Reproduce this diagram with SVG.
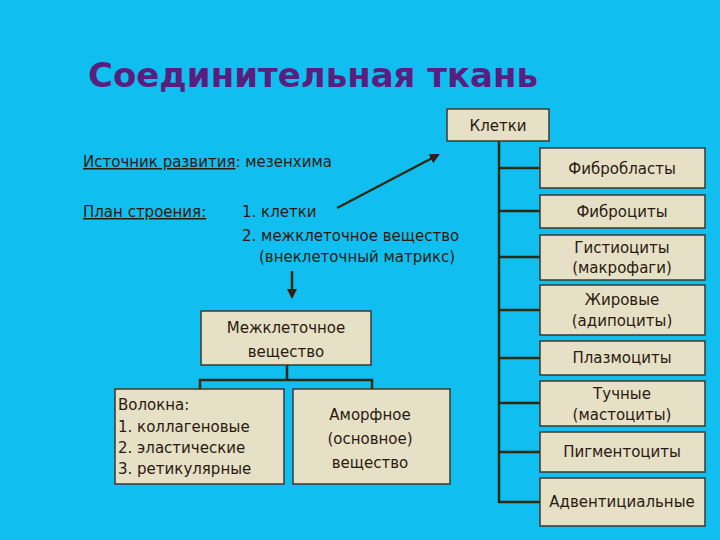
<svg xmlns="http://www.w3.org/2000/svg" width="720" height="540" viewBox="0 0 720 540">
<style>
.b{fill:#e6e0c6;stroke:#3a3a30;stroke-width:1.5}
text{font-family:"DejaVu Sans","Liberation Sans",sans-serif;fill:#2a1a10}
.c{font-size:15px;text-anchor:middle}
.l{stroke:#2a2a10;stroke-width:2.5;fill:none}
</style>
<defs><marker id="a" markerWidth="10" markerHeight="10" refX="8" refY="5" orient="auto" markerUnits="userSpaceOnUse"><path d="M0,0L10,5L0,10z" fill="#3a1a10"/></marker></defs>
<rect width="720" height="540" fill="#10bff0"/>
<text x="88" y="87" font-size="34" font-weight="bold" style="fill:#5a1e7e">Соединительная ткань</text>
<g id="info" font-size="15">
<text x="83" y="167"><tspan text-decoration="underline">Источник развития</tspan>: мезенхима</text>
<text x="83" y="217"><tspan text-decoration="underline">План строения:</tspan></text>
<text x="242" y="217">1. клетки</text>
<text x="242" y="241">2. межклеточное вещество</text>
<text x="259" y="262">(внеклеточный матрикс)</text>
</g>
<g id="connectors">
<line class="l" x1="337" y1="208" x2="438" y2="155" marker-end="url(#a)"/>
<line class="l" x1="292" y1="271" x2="292" y2="297" marker-end="url(#a)"/>
<path class="l" d="M499,141V502H540M499,168H540M499,211H540M499,257H540M499,310H540M499,358H540M499,403H540M499,452H540"/>
<path class="l" d="M287,365V380M200,389V380H372V389"/>
</g>
<g id="kletki"><rect class="b" x="447" y="109" width="102" height="32"/><text class="c" x="498" y="131">Клетки</text></g>
<g id="n1"><rect class="b" x="540" y="148" width="165" height="40"/><text class="c" x="622" y="174">Фибробласты</text></g>
<g id="n2"><rect class="b" x="540" y="195" width="165" height="33"/><text class="c" x="622" y="217">Фиброциты</text></g>
<g id="n3"><rect class="b" x="540" y="235" width="165" height="45"/><text class="c" x="622" y="253">Гистиоциты</text><text class="c" x="622" y="273">(макрофаги)</text></g>
<g id="n4"><rect class="b" x="540" y="285" width="165" height="50"/><text class="c" x="622" y="305">Жировые</text><text class="c" x="622" y="326">(адипоциты)</text></g>
<g id="n5"><rect class="b" x="540" y="341" width="165" height="34"/><text class="c" x="622" y="363">Плазмоциты</text></g>
<g id="n6"><rect class="b" x="540" y="381" width="165" height="45"/><text class="c" x="622" y="399">Тучные</text><text class="c" x="622" y="420">(мастоциты)</text></g>
<g id="n7"><rect class="b" x="540" y="432" width="165" height="40"/><text class="c" x="622" y="457">Пигментоциты</text></g>
<g id="n8"><rect class="b" x="540" y="478" width="165" height="48"/><text class="c" x="622" y="507">Адвентициальные</text></g>
<g id="mezh"><rect class="b" x="201" y="311" width="170" height="54"/><text class="c" x="286" y="333" font-size="17">Межклеточное</text><text class="c" x="286" y="357" font-size="17">вещество</text></g>
<g id="volokna"><rect class="b" x="115" y="389" width="169" height="95"/>
<text x="118" y="410" font-size="15">Волокна:</text>
<text x="118" y="432" font-size="15">1.  коллагеновые</text>
<text x="118" y="453" font-size="15">2.  эластические</text>
<text x="118" y="474" font-size="15">3.  ретикулярные</text></g>
<g id="amorf"><rect class="b" x="293" y="389" width="157" height="95"/>
<text class="c" x="370" y="420" font-size="17">Аморфное</text><text class="c" x="370" y="444" font-size="17">(основное)</text><text class="c" x="370" y="468" font-size="17">вещество</text></g>
</svg>
